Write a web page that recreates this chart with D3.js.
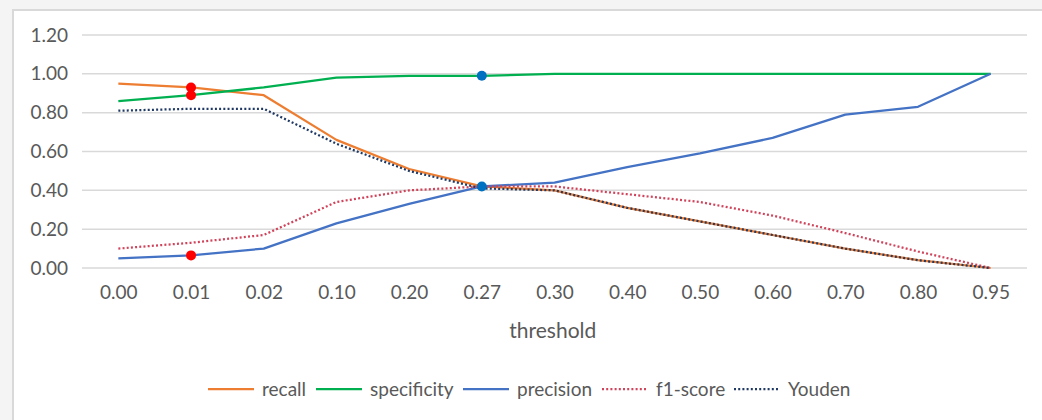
<!DOCTYPE html>
<html>
<head>
<meta charset="utf-8">
<script src="https://cdn.jsdelivr.net/npm/d3@7"></script>
<style>
  html, body { margin: 0; padding: 0; background: #f4f4f4; }
  svg { display: block; }
  text { font-family: Lato, "Open Sans", sans-serif; fill: #595959; }
</style>
</head>
<body>
<svg id="chart" width="1042" height="420"></svg>
<script>
// Threshold categories along the x axis
const thresholds = ["0.00","0.01","0.02","0.10","0.20","0.27","0.30","0.40","0.50","0.60","0.70","0.80","0.95"];

// Metric values per threshold
const recall      = [0.95, 0.93, 0.89, 0.66, 0.51, 0.42, 0.40, 0.31, 0.24, 0.17, 0.10, 0.04, 0.00];
const specificity = [0.86, 0.89, 0.93, 0.98, 0.99, 0.99, 1.00, 1.00, 1.00, 1.00, 1.00, 1.00, 1.00];
const precision   = [0.05, 0.065, 0.10, 0.23, 0.33, 0.42, 0.44, 0.52, 0.59, 0.67, 0.79, 0.83, 1.00];
const f1score     = [0.10, 0.13, 0.17, 0.34, 0.40, 0.42, 0.42, 0.38, 0.34, 0.27, 0.18, 0.085, 0.00];
const youden      = [0.81, 0.82, 0.82, 0.64, 0.50, 0.41, 0.40, 0.31, 0.24, 0.17, 0.10, 0.04, 0.00];

// Y axis tick labels
const yTicks = [0, 0.2, 0.4, 0.6, 0.8, 1.0, 1.2];

// Highlighted points: [series name, threshold]
const redPoints  = [["recall","0.01"], ["specificity","0.01"], ["precision","0.01"]];
const bluePoints = [["specificity","0.27"], ["precision","0.27"]];

const series = [
  { name: "recall",      values: recall,      color: "#ED7D31", dash: null },
  { name: "specificity", values: specificity, color: "#00B050", dash: null },
  { name: "precision",   values: precision,   color: "#4472C4", dash: null },
  { name: "f1-score",    values: f1score,     color: "#D0435A", dash: "2,2.2" },
  { name: "Youden",      values: youden,      color: "#1F3864", dash: "2,2.2" }
];
const byName = Object.fromEntries(series.map(s => [s.name, s]));

const svg = d3.select("#chart");

// chart frame
svg.append("rect")
  .attr("x", 13).attr("y", 10).attr("width", 1040).attr("height", 420)
  .attr("fill", "#ffffff").attr("stroke", "#d9d9d9").attr("stroke-width", 2);

const x = d3.scalePoint().domain(thresholds).range([82, 1027]).padding(0.5);
const y = d3.scaleLinear().domain([0, 1.2]).range([268, 35]);

// horizontal gridlines
svg.append("g").selectAll("line").data(yTicks).join("line")
  .attr("x1", 82).attr("x2", 1027)
  .attr("y1", d => y(d)).attr("y2", d => y(d))
  .attr("stroke", "#d9d9d9").attr("stroke-width", 1.5);

// y axis labels
const yAxis = d3.axisLeft(y).tickValues(yTicks).tickFormat(d3.format(".2f")).tickSize(0).tickPadding(0);
const gy = svg.append("g").attr("transform", "translate(68,0)").call(yAxis);
gy.select(".domain").remove();
gy.selectAll("text").attr("font-size", 19).attr("fill", "#595959")
  .style("font-family", "Lato, sans-serif");

// x axis labels
const xAxis = d3.axisBottom(x).tickSize(0).tickPadding(0);
const gx = svg.append("g").attr("transform", "translate(0,285)").call(xAxis);
gx.select(".domain").remove();
gx.selectAll("text").attr("font-size", 19).attr("fill", "#595959")
  .style("font-family", "Lato, sans-serif");

// axis title
svg.append("text")
  .attr("x", x("0.27") + 71).attr("y", 338)
  .attr("text-anchor", "middle").attr("font-size", 21)
  .text("threshold");

// series lines
const line = d3.line()
  .x((d, i) => x(thresholds[i]))
  .y(d => y(d));

series.forEach(s => {
  svg.append("path")
    .datum(s.values)
    .attr("d", line)
    .attr("fill", "none")
    .attr("stroke", s.color)
    .attr("stroke-width", 2.25)
    .attr("stroke-linejoin", "round")
    .attr("stroke-dasharray", s.dash);
});

// highlighted markers
function markers(points, color) {
  svg.append("g").selectAll("circle").data(points).join("circle")
    .attr("cx", d => x(d[1]))
    .attr("cy", d => y(byName[d[0]].values[thresholds.indexOf(d[1])]))
    .attr("r", 5)
    .attr("fill", color);
}
markers(redPoints, "#FF0000");
markers(bluePoints, "#0070C0");

// legend
const legendX = [208, 316, 463, 602, 734];
const legend = svg.append("g");
series.forEach((s, i) => {
  const lx = legendX[i];
  legend.append("line")
    .attr("x1", lx).attr("x2", lx + 46)
    .attr("y1", 389).attr("y2", 389)
    .attr("stroke", s.color).attr("stroke-width", 2.25)
    .attr("stroke-dasharray", s.dash);
  legend.append("text")
    .attr("x", lx + 54).attr("y", 389).attr("dy", "0.35em")
    .attr("font-size", 19)
    .text(s.name);
});
</script>
</body>
</html>
